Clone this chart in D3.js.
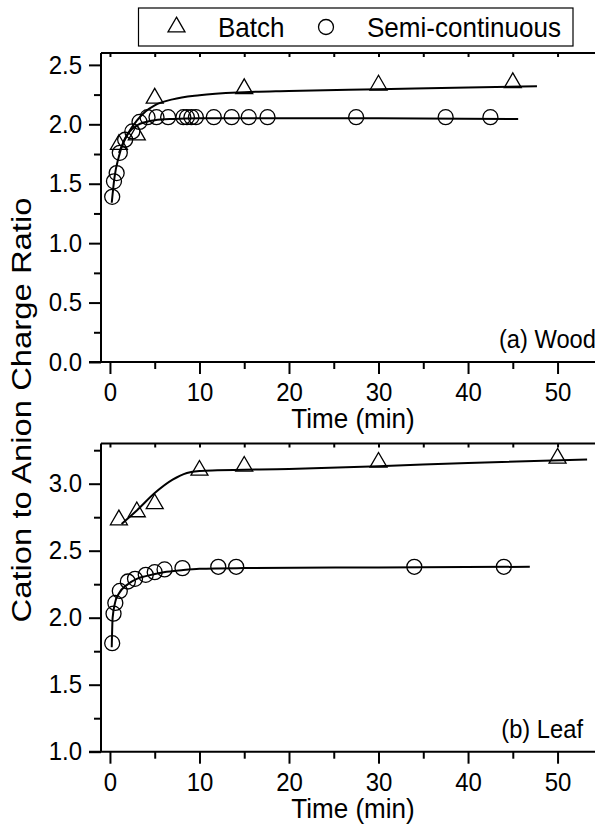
<!DOCTYPE html>
<html>
<head>
<meta charset="utf-8">
<script src="https://cdn.jsdelivr.net/npm/d3@7"></script>
<style>
  body { margin: 0; background: #fff; }
  svg text { font-family: Arial, "Liberation Sans", Arimo, sans-serif; fill: #000; }
</style>
</head>
<body>
<svg id="chart" width="595" height="826"></svg>
<script>
// (a) Wood - measured points
const woodBatchTime = [1, 3, 5, 15, 30, 45];
const woodBatchRatio = [1.83, 1.91, 2.22, 2.30, 2.33, 2.35];
const woodSemiTime = [0.25, 0.45, 0.75, 1.1, 1.7, 2.5, 3.3, 4.2, 5.2, 6.5, 8.2, 8.6, 9.1, 9.6, 11.6, 13.6, 15.5, 17.6, 27.5, 37.5, 42.5];
const woodSemiRatio = [1.39, 1.52, 1.59, 1.76, 1.87, 1.94, 2.02, 2.06, 2.06, 2.06, 2.06, 2.06, 2.06, 2.06, 2.06, 2.06, 2.06, 2.06, 2.06, 2.06, 2.06];
// (a) Wood - fitted curves
const woodBatchFitTime = [1.0, 2, 3, 4, 5, 7, 10, 15, 20, 30, 40, 47.7];
const woodBatchFitRatio = [1.76, 1.92, 2.03, 2.11, 2.16, 2.21, 2.245, 2.27, 2.28, 2.295, 2.31, 2.32];
const woodSemiFitTime = [0.2, 0.5, 1, 1.5, 2, 3, 4, 5, 7, 10, 20, 30, 45.6];
const woodSemiFitRatio = [1.34, 1.55, 1.73, 1.85, 1.92, 1.99, 2.02, 2.035, 2.045, 2.05, 2.05, 2.05, 2.045];

// (b) Leaf - measured points
const leafBatchTime = [1, 3, 5, 10, 15, 30, 50];
const leafBatchRatio = [2.73, 2.79, 2.85, 3.10, 3.13, 3.16, 3.19];
const leafSemiTime = [0.25, 0.4, 0.6, 1.1, 2.0, 2.8, 4.0, 5.0, 6.1, 8.1, 12.1, 14.1, 34, 44];
const leafSemiRatio = [1.81, 2.03, 2.11, 2.20, 2.27, 2.29, 2.32, 2.34, 2.36, 2.37, 2.38, 2.38, 2.38, 2.38];
// (b) Leaf - fitted curves
const leafBatchFitTime = [1.3, 3, 5, 7, 8.6, 10, 12, 20, 30, 40, 53.3];
const leafBatchFitRatio = [2.70, 2.80, 2.93, 3.03, 3.08, 3.095, 3.10, 3.11, 3.13, 3.155, 3.18];
const leafSemiFitTime = [0.2, 0.3, 0.6, 1, 2, 3, 4, 6, 8, 10, 15, 30, 46.9];
const leafSemiFitRatio = [1.78, 2.0, 2.12, 2.18, 2.25, 2.29, 2.31, 2.34, 2.355, 2.365, 2.37, 2.375, 2.38];

// ticks
const timeTicks = [0, 10, 20, 30, 40, 50];
const timeMinorTicks = [5, 15, 25, 35, 45];
const woodTicks = [0.0, 0.5, 1.0, 1.5, 2.0, 2.5];
const woodMinorTicks = [0.25, 0.75, 1.25, 1.75, 2.25];
const leafTicks = [1.0, 1.5, 2.0, 2.5, 3.0];
const leafMinorTicks = [1.25, 1.75, 2.25, 2.75, 3.25];

const svg = d3.select('#chart');

const x = d3.scaleLinear().domain([-1, 55.3]).range([101, 605]);

// the original lettering is a little taller than wide
function condense(sel, f) {
  sel.each(function () {
    const w = this.getComputedTextLength();
    this.setAttribute('textLength', w * f);
    this.setAttribute('lengthAdjust', 'spacingAndGlyphs');
  });
}

function drawPanel(cfg) {
  const y = d3.scaleLinear().domain(cfg.yDomain).range([cfg.bottom, cfg.top]);
  const g = svg.append('g');

  // frame: left and top
  g.append('line').attr('x1', x.range()[0]).attr('x2', x.range()[0])
    .attr('y1', cfg.top).attr('y2', cfg.bottom).attr('stroke', '#000').attr('stroke-width', 2);
  g.append('line').attr('x1', x.range()[0]).attr('x2', 600)
    .attr('y1', cfg.top).attr('y2', cfg.top).attr('stroke', '#000').attr('stroke-width', 2);

  // bottom axis
  g.append('g').attr('transform', `translate(0,${cfg.bottom})`)
    .call(d3.axisBottom(x).tickValues(timeTicks).tickSize(12).tickPadding(9).tickSizeOuter(0)
      .tickFormat(d3.format('d')));
  g.append('g').attr('transform', `translate(0,${cfg.bottom})`)
    .call(d3.axisBottom(x).tickValues(timeMinorTicks).tickSize(7).tickFormat('').tickSizeOuter(0));
  // top axis, inward ticks
  g.append('g').attr('transform', `translate(0,${cfg.top})`)
    .call(d3.axisBottom(x).tickValues(timeTicks.concat(timeMinorTicks)).tickSize(4).tickFormat('').tickSizeOuter(0));

  // left axis
  g.append('g').attr('transform', `translate(${x.range()[0]},0)`)
    .call(d3.axisLeft(y).tickValues(cfg.ticks).tickSize(12).tickPadding(7).tickSizeOuter(0)
      .tickFormat(d3.format('.1f')));
  g.append('g').attr('transform', `translate(${x.range()[0]},0)`)
    .call(d3.axisLeft(y).tickValues(cfg.minor).tickSize(7).tickFormat('').tickSizeOuter(0));

  g.selectAll('.domain').remove();
  g.selectAll('.tick line').attr('stroke', '#000').attr('stroke-width', 2);
  const tickText = g.selectAll('.tick text').attr('font-family', null)
    .style('font-size', '25.5px').attr('fill', '#000');
  condense(tickText, 0.94);

  g.append('line').attr('x1', x.range()[0] - 12).attr('x2', 600)
    .attr('y1', cfg.bottom).attr('y2', cfg.bottom).attr('stroke', '#000').attr('stroke-width', 2);

  const title = g.append('text').attr('x', (x.range()[0] + x.range()[1]) / 2).attr('y', cfg.bottom + 66)
    .attr('text-anchor', 'middle').style('font-size', '28px').text('Time (min)');
  condense(title, 0.93);

  const lab = g.append('text').attr('x', cfg.labelX).attr('y', cfg.bottom - 14)
    .attr('text-anchor', 'end').style('font-size', '25.5px').text(cfg.label);
  condense(lab, 0.93);

  const line = d3.line().x(d => x(d[0])).y(d => y(d[1])).curve(d3.curveMonotoneX);

  g.append('path').datum(d3.zip(cfg.batchFitT, cfg.batchFitV))
    .attr('d', line).attr('fill', 'none').attr('stroke', '#000').attr('stroke-width', 2);
  g.append('path').datum(d3.zip(cfg.semiFitT, cfg.semiFitV))
    .attr('d', line).attr('fill', 'none').attr('stroke', '#000').attr('stroke-width', 2);

  const tri = d3.symbol(d3.symbolTriangle, 125);
  g.selectAll('.tri').data(d3.zip(cfg.batchT, cfg.batchV)).enter()
    .append('path').attr('class', 'tri')
    .attr('transform', d => `translate(${x(d[0])},${y(d[1])})`)
    .attr('d', tri).attr('fill', 'none').attr('stroke', '#000').attr('stroke-width', 1.3);

  g.selectAll('.circ').data(d3.zip(cfg.semiT, cfg.semiV)).enter()
    .append('circle').attr('class', 'circ')
    .attr('cx', d => x(d[0])).attr('cy', d => y(d[1])).attr('r', 7.5)
    .attr('fill', 'none').attr('stroke', '#000').attr('stroke-width', 1.3);
}

drawPanel({
  top: 53, bottom: 362, yDomain: [0, 2.6], ticks: woodTicks, minor: woodMinorTicks,
  label: '(a) Wood', labelX: 596,
  batchT: woodBatchTime, batchV: woodBatchRatio, semiT: woodSemiTime, semiV: woodSemiRatio,
  batchFitT: woodBatchFitTime, batchFitV: woodBatchFitRatio, semiFitT: woodSemiFitTime, semiFitV: woodSemiFitRatio
});

drawPanel({
  top: 443.5, bottom: 751.7, yDomain: [1, 3.3], ticks: leafTicks, minor: leafMinorTicks,
  label: '(b) Leaf', labelX: 583,
  batchT: leafBatchTime, batchV: leafBatchRatio, semiT: leafSemiTime, semiV: leafSemiRatio,
  batchFitT: leafBatchFitTime, batchFitV: leafBatchFitRatio, semiFitT: leafSemiFitTime, semiFitV: leafSemiFitRatio
});

// y axis title
svg.append('text').attr('transform', 'translate(31,410) rotate(-90)')
  .attr('text-anchor', 'middle').style('font-size', '27px')
  .attr('textLength', 425).attr('lengthAdjust', 'spacingAndGlyphs')
  .text('Cation to Anion Charge Ratio');

// legend
const legend = svg.append('g');
legend.append('rect').attr('x', 138.5).attr('y', 8).attr('width', 434.5).attr('height', 38)
  .attr('fill', 'none').attr('stroke', '#000').attr('stroke-width', 1.2);
legend.append('path').attr('transform', 'translate(176.5,27)')
  .attr('d', d3.symbol(d3.symbolTriangle, 125)).attr('fill', 'none').attr('stroke', '#000').attr('stroke-width', 1.3);
legend.append('circle').attr('cx', 326).attr('cy', 27).attr('r', 7.5)
  .attr('fill', 'none').attr('stroke', '#000').attr('stroke-width', 1.3);
const legText = legend.selectAll('.lt').data([['Batch', 218], ['Semi-continuous', 367]]).enter()
  .append('text').attr('class', 'lt').attr('x', d => d[1]).attr('y', 37)
  .style('font-size', '28px').text(d => d[0]);
condense(legText, 0.93);
</script>
</body>
</html>
